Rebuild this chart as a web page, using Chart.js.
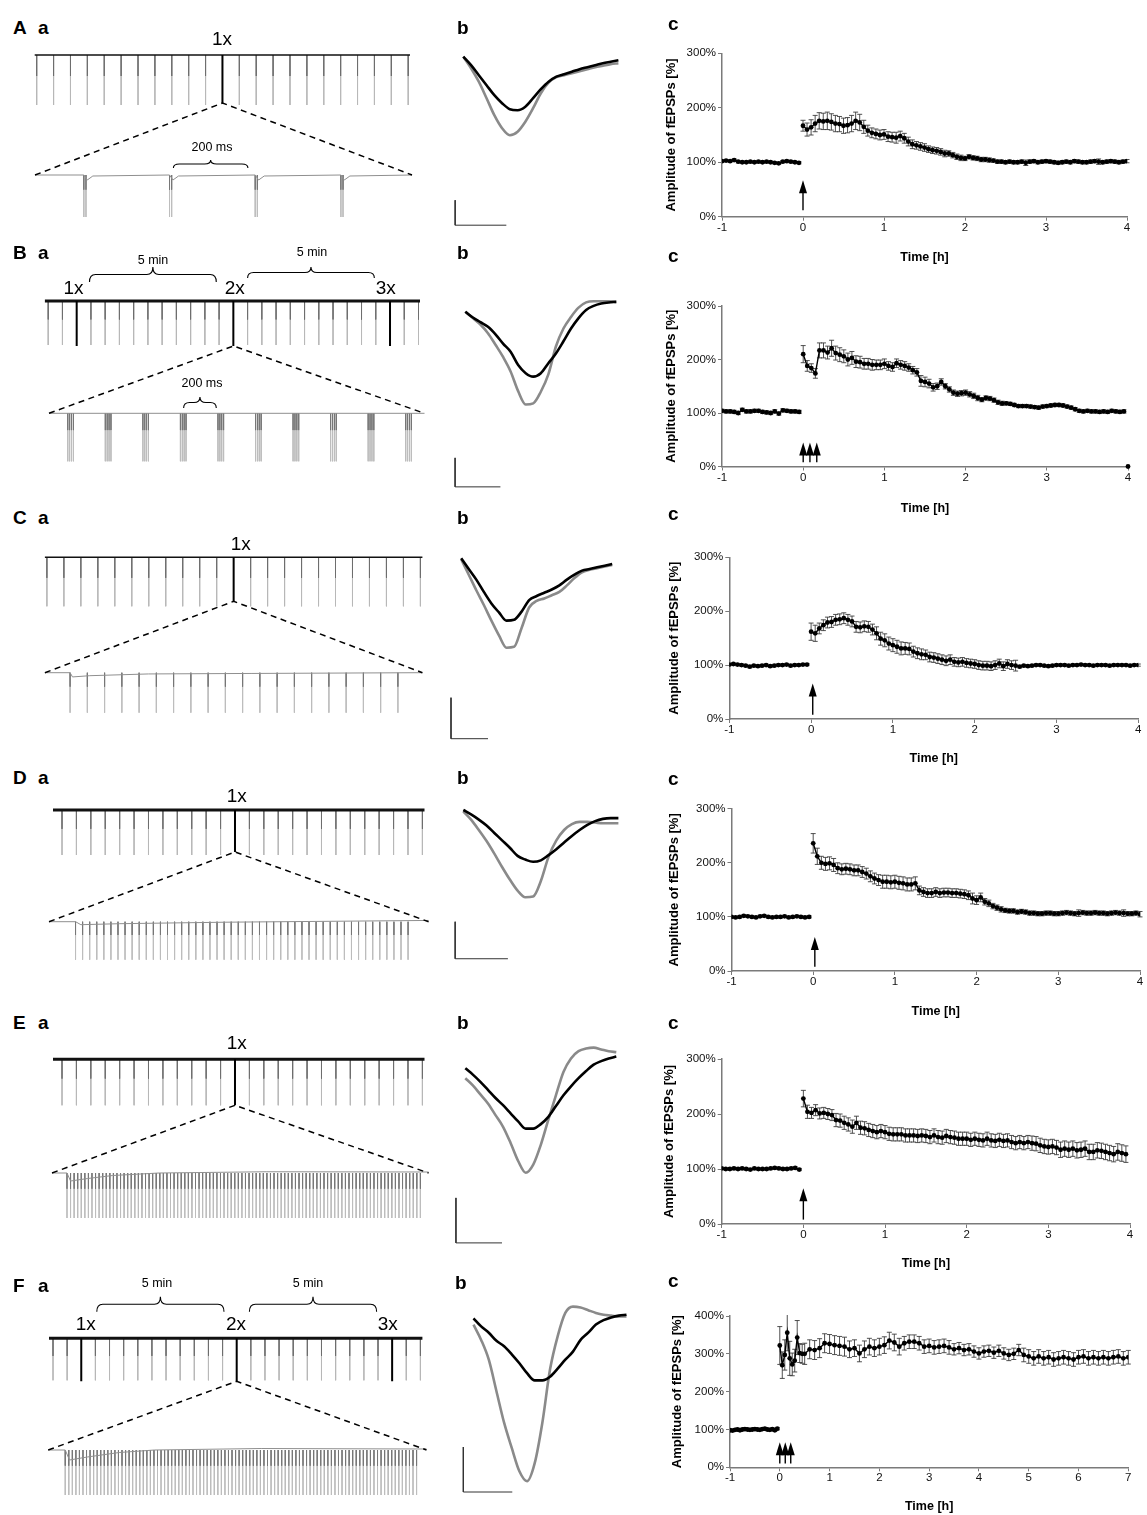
<!DOCTYPE html>
<html>
<head>
<meta charset="utf-8">
<title>fEPSP potentiation after different induction protocols</title>
<script src="https://cdn.jsdelivr.net/npm/chart.js@4.4.1/dist/chart.umd.min.js"></script>
<style>
  html, body { margin: 0; padding: 0; background: #fff; }
  body { position: relative; width: 1147px; height: 1515px; overflow: hidden;
         font-family: "Liberation Sans", Arial, Helvetica, sans-serif; color: #000; }
  canvas { position: absolute; }
  .panel { position: absolute; font-weight: bold; font-size: 19px; line-height: 1; transform: translate(0, -50%); }
  .note { position: absolute; white-space: nowrap; line-height: 1; transform: translate(-50%, -50%); }
  .stim { font-size: 19px; }
  .small { font-size: 12.5px; }
</style>
</head>
<body>
<script>
// ---------- c: fEPSP amplitude (% of baseline), 3-min bins ----------
const binH = 0.05;
const lateBinH = 0.1;   // F, from 0.5 h on

const baseA = [102,103,102,104,101,100,100,101,100,101,100,101,100,99,98,101,102,101,100,99];
const postA = [167,160,164,171,176,175,176,174,171,170,167,
  168,171,176,173,165,158,154,152,150,151,
  147,146,145,148,144,138,133,131,129,127,
  124,122,121,119,116,116,113,110,108,107,
  110,108,107,105,105,104,103,101,101,100,
  101,100,100,101,99,101,102,100,101,102,
  101,100,99,100,101,100,102,101,100,100,
  101,102,101,100,101,102,101,100,101,102];
const semA = [10,12,14,15,15,15,16,15,15,14,14,
  14,15,16,15,12,10,9,9,9,9,
  9,9,10,9,9,8,8,7,7,7,
  6,6,6,6,6,5,5,5,5,4,
  4,4,4,4,4,4,3,3,3,3,
  3,3,3,3,5,3,3,3,3,3,
  3,3,3,3,3,3,3,3,3,3,
  3,3,5,3,3,3,3,3,3,3];

const baseB = [104,103,103,102,100,106,103,103,104,104,102,101,100,103,99,105,104,103,103,102];
const postB = [210,188,184,174,217,217,213,221,212,209,
  206,200,203,196,195,192,192,190,190,190,
  192,188,186,193,190,188,185,180,176,160,
  158,155,148,150,158,150,144,138,136,137,
  138,135,132,128,125,128,127,124,120,118,
  118,117,115,113,113,113,112,111,110,112,
  113,114,115,115,114,112,110,107,104,103,
  104,103,103,102,103,102,104,103,102,103];
const semB = [16,10,8,9,14,14,12,15,13,13,
  12,12,12,11,11,10,10,10,9,9,
  9,8,8,8,8,8,7,7,7,10,
  9,8,7,6,6,5,5,5,5,5,
  5,5,5,5,4,4,4,4,4,4,
  3,3,3,3,3,3,3,3,3,3,
  3,3,3,3,3,3,3,3,3,3,
  3,3,3,3,3,3,3,3,3,3];
const strayTimeB = [4];
const strayValueB = [0];

const baseC = [101,102,101,100,99,97,99,98,99,100,98,99,100,100,101,99,100,100,101,101];
const postC = [162,159,168,174,179,180,184,185,187,184,181,
  171,170,172,171,166,159,149,146,140,137,
  134,131,131,130,125,122,120,119,115,114,
  112,110,108,110,106,105,106,104,103,102,
  100,99,99,98,100,103,98,102,100,99,
  97,99,98,99,100,100,99,98,99,100,
  100,100,99,100,100,101,100,100,99,100,
  100,100,99,100,100,100,100,99,100,100];
const semC = [16,15,10,10,10,10,10,10,10,10,10,
  10,10,10,10,10,12,12,12,12,12,
  12,12,11,11,10,10,10,9,9,9,
  9,9,9,9,8,8,8,8,8,8,
  8,8,8,8,8,8,8,8,8,10,
  2,2,2,2,2,2,2,2,2,2,
  2,2,2,2,2,2,2,2,2,2,
  2,2,2,2,2,2,2,2,2,2];

const baseD = [100,99,100,102,101,100,99,101,102,100,99,100,100,101,99,100,101,100,99,100];
const postD = [236,212,200,198,199,196,190,188,189,188,186,
  186,183,180,175,171,168,165,165,164,165,
  163,162,160,160,162,149,146,144,144,146,
  144,145,145,144,144,143,142,140,134,131,
  136,128,125,120,117,114,112,111,111,109,
  110,109,107,107,106,106,107,107,106,106,
  107,108,107,106,107,108,107,107,108,107,
  107,106,107,108,107,107,106,106,107,105];
const semD = [18,15,12,12,12,12,10,10,10,10,10,
  10,10,10,10,10,10,12,12,12,12,
  12,12,12,12,12,8,8,8,8,8,
  8,8,8,8,8,8,8,8,10,8,
  8,6,6,5,5,5,4,4,4,4,
  4,4,4,4,4,4,4,4,4,4,
  4,4,4,4,6,4,4,4,4,4,
  4,4,4,4,4,6,4,4,4,5];

const baseE = [101,100,100,101,100,101,100,99,101,100,100,100,101,102,101,100,100,101,102,99];
const postE = [228,204,202,207,201,202,200,198,189,188,
  184,181,177,184,175,174,171,169,167,169,
  167,164,163,163,163,161,161,161,160,161,
  160,158,161,158,157,160,158,157,155,155,
  155,153,155,153,152,155,152,151,153,151,
  152,149,147,149,147,149,147,146,143,141,
  140,141,139,135,137,135,137,134,135,137,
  131,131,134,133,131,129,127,131,129,127];
const semE = [15,12,10,10,10,10,10,10,12,12,
  12,12,12,12,12,12,12,12,12,12,
  12,12,12,12,12,12,12,12,12,12,
  12,12,12,12,12,12,12,12,12,12,
  12,12,12,12,12,12,12,12,12,12,
  12,12,12,12,12,12,13,13,13,13,
  13,13,13,14,14,14,14,14,14,14,
  14,14,14,14,14,14,14,15,15,15];

const baseF = [98,97,99,100,98,100,101,100,99,100,101,100,99,101,102,100,99,101,98,102];
const postEarlyF = [322,270,297,356,288,272,282,343,302,300];
const semEarlyF = [50,35,40,48,45,30,30,45,25,25];
const postLateF = [300,312,310,315,328,326,323,321,319,312,
  315,301,312,319,315,319,323,335,330,319,
  328,332,332,328,319,321,317,319,321,317,
  312,315,310,312,306,301,306,308,303,308,
  301,297,300,310,297,293,288,293,288,291,
  285,288,291,288,285,291,293,288,291,288,
  291,288,291,293,288,291];
const semLateF = [28,25,25,25,25,25,25,25,25,22,
  22,22,22,22,22,22,22,22,22,22,
  18,18,18,18,18,18,18,18,18,18,
  15,15,15,15,15,15,15,15,15,15,
  15,15,15,15,18,18,18,18,18,18,
  18,18,18,18,18,18,18,18,18,18,
  18,18,18,18,18,18];

// baseline SEM (%) for A..F
const baseSem = [2, 3, 2, 2, 2, 3];
// induction times (h)
const arrowsA = [0], arrowsB = [0, 0.083, 0.167], arrowsC = [0.02];
const arrowsD = [0.02], arrowsE = [0], arrowsF = [0, 0.11, 0.22];

// ---------- b: averaged fEPSPs (mV), before (black) and after (gray) ----------
const beforeA = [0,-.17,-.37,-.57,-.77,-.93,-1.05,-1.07,-1.0,-.83,-.65,-.5,-.4,-.35,-.3,-.25,-.21,-.17,-.13,-.1,-.07];
const afterA  = [0,-.23,-.5,-.83,-1.17,-1.43,-1.57,-1.5,-1.3,-1.03,-.73,-.52,-.41,-.37,-.33,-.29,-.25,-.21,-.18,-.15,-.13];
const beforeB = [0,-.10,-.18,-.26,-.39,-.55,-.69,-.92,-1.06,-1.12,-1.06,-.89,-.72,-.51,-.29,-.11,.03,.10,.14,.16,.17];
const afterB  = [0,-.11,-.22,-.37,-.57,-.78,-1.03,-1.37,-1.60,-1.58,-1.38,-1.08,-.60,-.29,-.09,.07,.16,.18,.18,.18,.17];
const beforeC = [0,-.13,-.26,-.41,-.55,-.66,-.76,-.75,-.65,-.51,-.46,-.42,-.38,-.33,-.26,-.20,-.15,-.13,-.11,-.09,-.07];
const afterC  = [-.01,-.20,-.39,-.57,-.76,-.94,-1.09,-1.08,-.85,-.60,-.52,-.49,-.45,-.41,-.33,-.24,-.17,-.14,-.12,-.10,-.08];
const beforeD = [0,-.06,-.13,-.21,-.31,-.41,-.51,-.62,-.67,-.70,-.68,-.61,-.53,-.44,-.35,-.27,-.20,-.15,-.12,-.11,-.11];
const afterD  = [-.02,-.13,-.27,-.42,-.59,-.77,-.94,-1.09,-1.18,-1.17,-.96,-.63,-.41,-.27,-.19,-.16,-.16,-.17,-.18,-.18,-.18];
const beforeE = [0,-.07,-.15,-.24,-.33,-.41,-.50,-.59,-.67,-.67,-.62,-.54,-.42,-.30,-.20,-.11,-.03,.04,.08,.11,.13];
const afterE  = [-.11,-.19,-.29,-.39,-.52,-.65,-.83,-1.03,-1.16,-1.07,-.85,-.57,-.30,-.04,.11,.19,.22,.23,.21,.19,.18];
const beforeF = [0,-.09,-.16,-.25,-.31,-.40,-.50,-.61,-.69,-.69,-.65,-.56,-.46,-.37,-.24,-.16,-.07,-.02,.01,.03,.04];
const afterF  = [-.07,-.24,-.46,-.81,-1.16,-1.44,-1.70,-1.81,-1.61,-1.16,-.57,-.20,.06,.13,.12,.09,.06,.04,.03,.02,.02];
// scale bars: [sample, top (mV), length (samples)], all 0.5 mV tall
const barMv = 0.5;
const barA = [-1.05, -2.87, 6.6], barB = [-1.35, -2.52, 6.0], barC = [-1.35, -1.70, 4.9];
const barD = [-1.05, -1.51, 6.8], barE = [-1.24, -1.44, 6.1], barF = [-1.33, -1.43, 6.4];

// ---------- a: recording traces ----------
// test pulses in the overview trace and which of them are inductions
const pulsesA = 23, stimA = [11];
const pulsesB = 27, stimB = [2, 13, 24];
const pulsesC = 23, stimC = [11];
const pulsesD = 26, stimD = [12];
const pulsesE = 26, stimE = [12];
const pulsesF = 27, stimF = [2, 13, 24];
// spike depth (mV): test pulse, induction, expanded train
const depthA = [2.0, 1.92, 1.68], depthB = [1.76, 1.8, 1.92], depthC = [1.96, 1.76, 1.6];
const depthD = [1.8, 1.68, 1.52], depthE = [1.84, 1.84, 1.8], depthF = [1.68, 1.72, 1.8];
// expanded train: [first pulse ms, bursts, burst interval ms, pulses per burst, pulse interval ms]
const trainA = [114, 4, 200, 2, 5], trainB = [100, 10, 200, 4, 10], trainC = [73, 20, 50, 1, 0];
const trainD = [75, 48, 20, 1, 0], trainE = [42, 100, 10, 1, 0], trainF = [48, 100, 10, 1, 0];
const trainMs = [880, 2000, 1094, 1073, 1055, 1066];
// expanded trace baseline (ms, mV)
const lowTA = [0,114,122,135,314,322,335,514,522,535,714,722,735,880];
const lowVA = [0,0,-.2,-.04,0,-.2,-.04,0,-.2,-.04,0,-.2,-.04,0];
const lowTB = [0, 2000], lowVB = [0, 0];
const lowTC = [0,73,80,130,300,600,1094], lowVC = [0,0,-.17,-.12,-.05,-.03,0];
const lowTD = [0,75,90,200,500,1073], lowVD = [0,0,-.12,-.08,-.02,.05];
const lowTE = [0,42,52,100,170,300,600,1055], lowVE = [0,0,-.32,-.22,-.1,0,.05,.04];
const lowTF = [0,48,60,110,200,300,600,1066], lowVF = [0,0,-.4,-.28,-.1,0,.06,.04];

// ---------- layout ----------
const FONT = '"Liberation Sans", Arial, Helvetica, sans-serif';
const AXIS = '#7a7a7a';
const MV = 25;            // px per mV in the a traces
const PAGE_W = 1147;

const traceGeom = {
  A: {top: 40, h: 190, topY: 55, first: 36.7, last: 408.2, traceL: 34.7, traceR: 410, tw: 1.6, lowY: 175, lowL: 35, lowR: 412},
  B: {top: 255, h: 215, topY: 301, first: 48.2, last: 418.5, traceL: 44.9, traceR: 420, tw: 3, lowY: 413.3, lowL: 49, lowR: 424.5},
  C: {top: 540, h: 180, topY: 557.3, first: 46.9, last: 420.4, traceL: 44.9, traceR: 422.4, tw: 1.6, lowY: 672.7, lowL: 44.9, lowR: 422.4},
  D: {top: 795, h: 170, topY: 810, first: 62, last: 422.4, traceL: 53, traceR: 424.5, tw: 3, lowY: 921.7, lowL: 49, lowR: 428.6},
  E: {top: 1040, h: 185, topY: 1059.3, first: 62, last: 422.4, traceL: 53, traceR: 424.5, tw: 3, lowY: 1173, lowL: 52, lowR: 428.6},
  F: {top: 1290, h: 210, topY: 1338.3, first: 53, last: 420.4, traceL: 49, traceR: 422.4, tw: 3, lowY: 1450, lowL: 48.2, lowR: 426.5}
};
const braceGeom = {
  A: {top: [], low: [323, 497, 0.28, 0.6]},
  B: {top: [[2.9, 11.8, 0.76, 1.36], [14.0, 22.9, 0.92, 1.36]], low: [717, 891, 0.21, 0.65]},
  F: {top: [[3.1, 12.1, 1.06, 1.66], [13.9, 22.9, 1.06, 1.66]], low: null}
};
const fepspGeom = {
  A: {top: 40, h: 195, s0: 463.3, s20: 618.4, zeroY: 56.7, k: 50},
  B: {top: 295, h: 200, s0: 465.3, s20: 616.3, zeroY: 311.7, k: 58},
  C: {top: 545, h: 200, s0: 461.2, s20: 612.2, zeroY: 558.3, k: 82},
  D: {top: 800, h: 165, s0: 463.3, s20: 618.4, zeroY: 810, k: 74},
  E: {top: 1040, h: 210, s0: 465.3, s20: 616.3, zeroY: 1068.3, k: 90},
  F: {top: 1300, h: 200, s0: 473.5, s20: 626.5, zeroY: 1318.3, k: 90}
};
const courseGeom = {
  A: {titleX: 671.7, L: 722, R: 1127, T: 53.3, B: 216.7, titleY: 257},
  B: {titleX: 671.7, L: 722, R: 1128, T: 306, B: 466.5, titleY: 508},
  C: {titleX: 675, L: 729.3, R: 1138.3, T: 557.3, B: 719, titleY: 758.3},
  D: {titleX: 675, L: 731.5, R: 1140, T: 808.7, B: 971, titleY: 1011.7},
  E: {titleX: 670, L: 721.7, R: 1130, T: 1059, B: 1224, titleY: 1263.3},
  F: {titleX: 678, L: 730, R: 1128.3, T: 1316, B: 1467.3, titleY: 1506.7}
};

function makeCanvas(left, top, w, h) {
  const c = document.createElement('canvas');
  c.width = w; c.height = h;
  c.style.left = left + 'px'; c.style.top = top + 'px';
  c.style.width = w + 'px'; c.style.height = h + 'px';
  document.body.appendChild(c);
  return c;
}

function addText(text, x, y, cls) {
  const d = document.createElement('div');
  d.className = cls;
  d.textContent = text;
  d.style.left = x + 'px';
  d.style.top = y + 'px';
  document.body.appendChild(d);
}

const baseOptions = {
  responsive: false, animation: false, events: [],
  plugins: {legend: {display: false}, tooltip: {enabled: false}}
};

// vertical segments for spikes, separated by gaps
function segs(xs, from, to) {
  const out = [];
  xs.forEach(x => { out.push({x, y: from}, {x, y: to}, {x, y: null}); });
  return out;
}

function drawBrace(ctx, x1, x2, yEnd, yTip) {
  const xm = (x1 + x2) / 2, ym = (yEnd + yTip) / 2, r = Math.min(6, (x2 - x1) / 5);
  ctx.beginPath();
  ctx.moveTo(x1, yEnd);
  ctx.quadraticCurveTo(x1, ym, x1 + r, ym);
  ctx.lineTo(xm - r, ym);
  ctx.quadraticCurveTo(xm, ym, xm, yTip);
  ctx.quadraticCurveTo(xm, ym, xm + r, ym);
  ctx.lineTo(x2 - r, ym);
  ctx.quadraticCurveTo(x2, ym, x2, yEnd);
  ctx.stroke();
}

// panel a: overview trace with test pulses + expanded induction train
function tracePanel(key, n, stim, depth, train, durMs, lowT, lowV) {
  const G = traceGeom[key], W = 445, left = 0;
  const cv = makeCanvas(left, G.top, W, G.h);
  const kt = (G.last - G.first) / (n - 1);
  const kb = (G.lowR - G.lowL) / durMs;
  const test = [];
  for (let i = 0; i < n; i++) if (!stim.includes(i)) test.push(i);
  const [first, nb, bi, ppb, pi] = train;
  const pulses = [];
  for (let b = 0; b < nb; b++) for (let p = 0; p < ppb; p++) pulses.push(first + b * bi + p * pi);
  const split = 0.42;
  const line = (data, xa, ya, color, width, order) => ({
    data, xAxisID: xa, yAxisID: ya, borderColor: color, borderWidth: width,
    pointRadius: 0, spanGaps: false, tension: 0, order
  });
  const datasets = [
    line(segs(stim, 0, -depth[1]), 'xt', 'yt', '#000', 2, 0),
    line([{x: (G.traceL - G.first) / kt, y: 0}, {x: (G.traceR - G.first) / kt, y: 0}], 'xt', 'yt', '#111', G.tw, 1),
    line(lowT.map((t, i) => ({x: t, y: lowV[i]})), 'xb', 'yb', '#8f8f8f', 1, 2),
    line(segs(test, 0, -depth[0] * split), 'xt', 'yt', '#6e6e6e', 1, 3),
    line(segs(test, -depth[0] * split, -depth[0]), 'xt', 'yt', '#b8b8b8', 1, 4),
    line(segs(pulses, 0, -depth[2] * 0.35), 'xb', 'yb', '#777', 1, 5),
    line(segs(pulses, -depth[2] * 0.35, -depth[2]), 'xb', 'yb', '#bdbdbd', 1, 6)
  ];
  const apex = stim[Math.floor(stim.length / 2)];
  const braces = braceGeom[key];
  const decor = {
    id: 'decor' + key,
    afterDatasetsDraw(chart) {
      const {ctx, scales: s} = chart;
      ctx.save();
      ctx.strokeStyle = '#000';
      ctx.lineWidth = 1.5;
      ctx.setLineDash([6, 4.5]);
      const ax = s.xt.getPixelForValue(apex), ay = s.yt.getPixelForValue(-depth[1]);
      const ly = s.yb.getPixelForValue(0);
      ctx.beginPath();
      ctx.moveTo(s.xb.getPixelForValue(0), ly);
      ctx.lineTo(ax, ay);
      ctx.lineTo(s.xb.getPixelForValue(durMs), ly);
      ctx.stroke();
      ctx.setLineDash([]);
      ctx.lineWidth = 1.1;
      if (braces) {
        braces.top.forEach(b => drawBrace(ctx, s.xt.getPixelForValue(b[0]), s.xt.getPixelForValue(b[1]),
          s.yt.getPixelForValue(b[2]), s.yt.getPixelForValue(b[3])));
        const b = braces.low;
        if (b) drawBrace(ctx, s.xb.getPixelForValue(b[0]), s.xb.getPixelForValue(b[1]),
          s.yb.getPixelForValue(b[2]), s.yb.getPixelForValue(b[3]));
      }
      ctx.restore();
    }
  };
  const bottom = G.top + G.h;
  new Chart(cv, {
    type: 'line',
    data: {datasets},
    options: {
      ...baseOptions,
      layout: {padding: 0},
      scales: {
        xt: {type: 'linear', display: false, min: (left - G.first) / kt, max: (left + W - G.first) / kt},
        xb: {type: 'linear', display: false, min: (left - G.lowL) / kb, max: (left + W - G.lowL) / kb},
        yt: {type: 'linear', display: false, min: (G.topY - bottom) / MV, max: (G.topY - G.top) / MV},
        yb: {type: 'linear', display: false, min: (G.lowY - bottom) / MV, max: (G.lowY - G.top) / MV}
      }
    },
    plugins: [decor]
  });
}

// panel b: fEPSP waveforms and scale bar
function fepspPanel(key, before, after, bar) {
  const G = fepspGeom[key], left = 440, W = 200;
  const cv = makeCanvas(left, G.top, W, G.h);
  const kx = (G.s20 - G.s0) / (before.length - 1);
  const wave = (vals, color, order) => ({
    data: vals.map((v, i) => ({x: i, y: v})), borderColor: color, borderWidth: 2.6,
    pointRadius: 0, cubicInterpolationMode: 'monotone', order
  });
  new Chart(cv, {
    type: 'line',
    data: {datasets: [
      wave(before, '#000', 0),
      wave(after, '#8a8a8a', 1),
      {data: [{x: bar[0], y: bar[1]}, {x: bar[0], y: bar[1] - barMv}, {x: bar[0] + bar[2], y: bar[1] - barMv}],
       borderColor: '#333', borderWidth: 1, pointRadius: 0, tension: 0, order: 2}
    ]},
    options: {
      ...baseOptions,
      layout: {padding: 0},
      scales: {
        x: {type: 'linear', display: false, min: (left - G.s0) / kx, max: (left + W - G.s0) / kx},
        y: {type: 'linear', display: false, min: (G.zeroY - G.top - G.h) / G.k, max: (G.zeroY - G.top) / G.k}
      }
    }
  });
}

// panel c: time course
function series(t0, step, vals, sem) {
  return vals.map((v, i) => ({x: +(t0 + i * step).toFixed(3), y: v, e: Array.isArray(sem) ? sem[i] : sem}));
}

const errorBars = {
  id: 'errorBars',
  beforeDatasetsDraw(chart) {
    const {ctx, chartArea: a, scales: {y}} = chart;
    ctx.save();
    ctx.beginPath();
    ctx.rect(a.left, a.top - 1, a.right - a.left + 4, a.bottom - a.top + 1);
    ctx.clip();
    ctx.strokeStyle = '#3c3c3c';
    ctx.lineWidth = 0.9;
    chart.data.datasets.forEach((ds, di) => {
      chart.getDatasetMeta(di).data.forEach((pt, i) => {
        const d = ds.data[i];
        if (!d || !d.e) return;
        const yt = y.getPixelForValue(d.y + d.e), yb = y.getPixelForValue(d.y - d.e);
        ctx.beginPath();
        ctx.moveTo(pt.x, yt); ctx.lineTo(pt.x, yb);
        ctx.moveTo(pt.x - 2.5, yt); ctx.lineTo(pt.x + 2.5, yt);
        ctx.moveTo(pt.x - 2.5, yb); ctx.lineTo(pt.x + 2.5, yb);
        ctx.stroke();
      });
    });
    ctx.restore();
  }
};

const stimArrows = {
  id: 'stimArrows',
  afterDatasetsDraw(chart, args, o) {
    if (!o || !o.times) return;
    const {ctx, scales: {x, y}} = chart;
    ctx.save();
    ctx.strokeStyle = '#000';
    ctx.fillStyle = '#000';
    ctx.lineWidth = 1.4;
    o.times.forEach(t => {
      const px = x.getPixelForValue(t), y1 = y.getPixelForValue(o.low), y2 = y.getPixelForValue(o.high);
      ctx.beginPath(); ctx.moveTo(px, y1); ctx.lineTo(px, y2 + 10); ctx.stroke();
      ctx.beginPath(); ctx.moveTo(px, y2); ctx.lineTo(px - 4, y2 + 13); ctx.lineTo(px + 4, y2 + 13);
      ctx.closePath(); ctx.fill();
    });
    ctx.restore();
  }
};

function timeCourse(key, groups, stray, xMax, yMax, arrows, low, high) {
  const L = courseGeom[key];
  const left = Math.round(L.titleX - 7.8), top = Math.round(L.T - 22), bottom = Math.round(L.titleY + 7.5);
  const cv = makeCanvas(left, top, PAGE_W - left, bottom - top);
  const dot = (data) => ({
    data, borderColor: '#000', borderWidth: 1.4, pointRadius: 2.4, pointBackgroundColor: '#000',
    pointBorderWidth: 0, tension: 0, showLine: true
  });
  const datasets = groups.map(dot);
  if (stray) datasets.push({...dot(stray), showLine: false, clip: 6});
  const tickFont = {family: FONT, size: 11.5};
  new Chart(cv, {
    type: 'line',
    data: {datasets},
    options: {
      ...baseOptions,
      plugins: {...baseOptions.plugins, stimArrows: {times: arrows, low, high}},
      layout: {padding: {top: L.T - top, right: PAGE_W - L.R, left: 0, bottom: 0}},
      scales: {
        x: {
          type: 'linear', min: -1, max: xMax,
          afterFit: s => { s.height = bottom - L.B; },
          border: {color: AXIS, width: 1.5},
          grid: {drawOnChartArea: false, color: AXIS, tickLength: 4},
          ticks: {stepSize: 1, font: tickFont, color: '#111', padding: 0, maxRotation: 0, autoSkip: false},
          title: {display: true, text: 'Time [h]', font: {family: FONT, size: 12.5, weight: 'bold'}, color: '#000', padding: 0}
        },
        y: {
          type: 'linear', min: 0, max: yMax,
          afterFit: s => { s.width = L.L - left; },
          border: {color: AXIS, width: 1.5},
          grid: {drawOnChartArea: false, color: AXIS, tickLength: 4},
          ticks: {stepSize: 100, font: tickFont, color: '#111', padding: 2, callback: v => v + '%'},
          title: {display: true, text: 'Amplitude of fEPSPs [%]', font: {family: FONT, size: 13, weight: 'bold'}, color: '#000', padding: 0}
        }
      }
    },
    plugins: [errorBars, stimArrows]
  });
}

// ---------- build ----------
tracePanel('A', pulsesA, stimA, depthA, trainA, trainMs[0], lowTA, lowVA);
tracePanel('B', pulsesB, stimB, depthB, trainB, trainMs[1], lowTB, lowVB);
tracePanel('C', pulsesC, stimC, depthC, trainC, trainMs[2], lowTC, lowVC);
tracePanel('D', pulsesD, stimD, depthD, trainD, trainMs[3], lowTD, lowVD);
tracePanel('E', pulsesE, stimE, depthE, trainE, trainMs[4], lowTE, lowVE);
tracePanel('F', pulsesF, stimF, depthF, trainF, trainMs[5], lowTF, lowVF);

fepspPanel('A', beforeA, afterA, barA);
fepspPanel('B', beforeB, afterB, barB);
fepspPanel('C', beforeC, afterC, barC);
fepspPanel('D', beforeD, afterD, barD);
fepspPanel('E', beforeE, afterE, barE);
fepspPanel('F', beforeF, afterF, barF);

timeCourse('A', [series(-1, binH, baseA, baseSem[0]), series(0, binH, postA, semA)], null, 4, 300, arrowsA, 12, 67);
timeCourse('B', [series(-1, binH, baseB, baseSem[1]), series(0, binH, postB, semB)],
  strayTimeB.map((t, i) => ({x: t, y: strayValueB[i], e: 0})), 4, 300, arrowsB, 8, 45);
timeCourse('C', [series(-1, binH, baseC, baseSem[2]), series(0, binH, postC, semC)], null, 4, 300, arrowsC, 8, 66);
timeCourse('D', [series(-1, binH, baseD, baseSem[3]), series(0, binH, postD, semD)], null, 4, 300, arrowsD, 8, 63);
timeCourse('E', [series(-1, binH, baseE, baseSem[4]), series(0, binH, postE, semE)], null, 4, 300, arrowsE, 8, 65);
timeCourse('F', [series(-1, binH, baseF, baseSem[5]),
  series(0, binH, postEarlyF, semEarlyF).concat(series(0.5, lateBinH, postLateF, semLateF))], null, 7, 400, arrowsF, 10, 66);

// ---------- text ----------
const panelLetters = [
  ['A', 13, 27], ['a', 38, 27], ['b', 457, 27], ['c', 668, 23],
  ['B', 13, 252], ['a', 38, 252], ['b', 457, 252], ['c', 668, 255],
  ['C', 13, 517], ['a', 38, 517], ['b', 457, 517], ['c', 668, 513],
  ['D', 13, 777], ['a', 38, 777], ['b', 457, 777], ['c', 668, 778],
  ['E', 13, 1022], ['a', 38, 1022], ['b', 457, 1022], ['c', 668, 1022],
  ['F', 13, 1285], ['a', 38, 1285], ['b', 455, 1282], ['c', 668, 1280]
];
panelLetters.forEach(([t, x, y]) => addText(t, x, y, 'panel'));

const notes = [
  ['1x', 222, 38.3, 'stim'], ['200 ms', 212, 147, 'small'],
  ['5 min', 153, 260, 'small'], ['5 min', 312, 251.7, 'small'],
  ['1x', 73.5, 286.7, 'stim'], ['2x', 234.7, 286.7, 'stim'], ['3x', 385.7, 286.7, 'stim'],
  ['200 ms', 202, 383.3, 'small'],
  ['1x', 240.8, 543.3, 'stim'],
  ['1x', 236.7, 795, 'stim'],
  ['1x', 236.7, 1041.7, 'stim'],
  ['5 min', 157, 1283.3, 'small'], ['5 min', 308, 1282.7, 'small'],
  ['1x', 85.7, 1323.3, 'stim'], ['2x', 236, 1323.3, 'stim'], ['3x', 387.8, 1323.3, 'stim']
];
notes.forEach(([t, x, y, c]) => addText(t, x, y, 'note ' + c));
</script>
</body>
</html>
